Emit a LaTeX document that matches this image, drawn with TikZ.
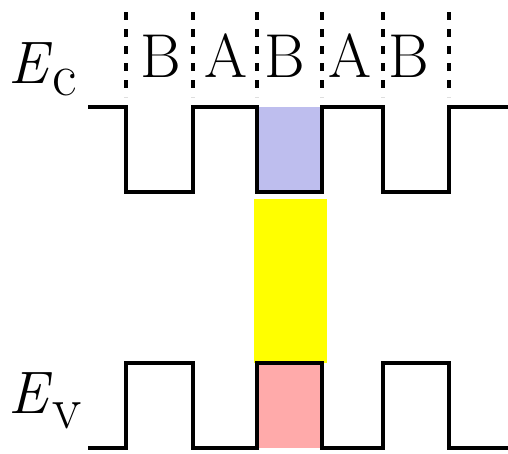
\documentclass[tikz,border=0pt]{standalone}
\definecolor{wellblue}{RGB}{190,190,238}
\definecolor{wellpink}{RGB}{255,170,170}
\definecolor{gapyellow}{RGB}{255,255,0}
\begin{document}
\begin{tikzpicture}[x=1pt,y=-1pt,
  band/.style={line width=4pt,line join=miter},
  divider/.style={line width=3.5pt,dash pattern=on 8pt off 9pt},
  layer/.style={font=\fontsize{62}{70}\selectfont,inner sep=0pt,anchor=base},
  level/.style={font=\fontsize{60}{70}\selectfont,inner sep=0pt,anchor=base west}]
\useasboundingbox (0,0) rectangle (508,453);
% fills
\fill[gapyellow] (254,199) rectangle (327,363);
\fill[wellblue] (257,107) rectangle (322,192);
\fill[wellpink] (257,363) rectangle (322,448);
% dashed dividers
\foreach \x in {126,193,257,322,383,449}
  \draw[divider] (\x,12) -- (\x,97);
% layer labels
\node[layer] (b1) at (161,77) {B};
\node[layer] (a1) at (226,77) {A};
\node[layer] (b2) at (285,77) {B};
\node[layer] (a2) at (350,77) {A};
\node[layer] (b3) at (409,77) {B};
% energy labels
\node[level] (ec) at (8,83) {\textit{E}\raisebox{-12pt}{c}};
\node[level] (ev) at (8,413) {\textit{E}\raisebox{-15pt}{v}};
% conduction band
\draw[band] (88,107) -- (126,107) -- (126,192) -- (193,192) -- (193,107)
  -- (257,107) -- (257,192) -- (322,192) -- (322,107) -- (383,107)
  -- (383,192) -- (449,192) -- (449,107) -- (508,107);
% valence band
\draw[band] (88,448) -- (126,448) -- (126,363) -- (193,363) -- (193,448)
  -- (257,448) -- (257,363) -- (322,363) -- (322,448) -- (383,448)
  -- (383,363) -- (449,363) -- (449,448) -- (508,448);
\end{tikzpicture}
\end{document}
